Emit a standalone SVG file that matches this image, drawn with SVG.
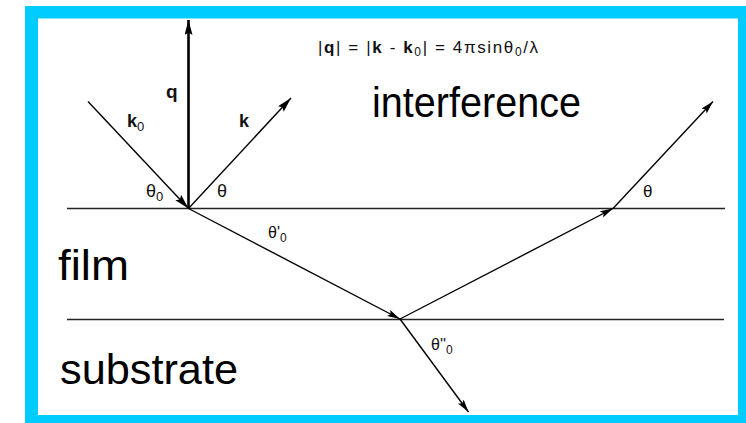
<svg xmlns="http://www.w3.org/2000/svg" width="746" height="423" viewBox="0 0 746 423">
<style>
.lbl{font-family:"Liberation Sans",Arial,sans-serif;fill:#111}
.big{font-family:"Liberation Sans",Arial,sans-serif;font-size:43px;fill:#000}
.b{font-weight:bold}
.ray{stroke:#000;stroke-width:1.4;fill:none}
.surf{stroke:#222;stroke-width:1.5}
</style>
<defs>
<marker id="ah" markerUnits="userSpaceOnUse" markerWidth="14" markerHeight="8" refX="13" refY="3.5" orient="auto">
<path d="M0,0 L13,3.5 L0,7 L2.5,3.5 z" fill="#000"/>
</marker>
<marker id="ahq" markerUnits="userSpaceOnUse" markerWidth="16" markerHeight="9" refX="15" refY="4" orient="auto">
<path d="M0,0 L15,4 L0,8 L2.5,4 z" fill="#000"/>
</marker>
</defs>
<rect x="25" y="6" width="721" height="417" fill="#00CCFF"/>
<rect x="38" y="18.5" width="700" height="396.5" fill="#fff"/>
<g id="surfaces">
<line class="surf" x1="67" y1="208.5" x2="725" y2="208.5"/>
<line class="surf" x1="67" y1="319.5" x2="724" y2="319.5"/>
</g>
<g id="connectors">
<line x1="188.5" y1="208.5" x2="188.5" y2="20" stroke="#000" stroke-width="2.6" marker-end="url(#ahq)"/>
<line class="ray" x1="88" y1="101.5" x2="188.5" y2="208.5" stroke-width="1.8" marker-end="url(#ahq)"/>
<line class="ray" x1="188.5" y1="208.5" x2="291" y2="98" stroke-width="1.8" marker-end="url(#ahq)"/>
<line class="ray" x1="188.5" y1="208.5" x2="400" y2="319" marker-end="url(#ah)"/>
<line class="ray" x1="400" y1="319" x2="613" y2="208.5" marker-end="url(#ah)"/>
<line class="ray" x1="613" y1="208.5" x2="713" y2="101.5" stroke-width="1.8" marker-end="url(#ah)"/>
<line class="ray" x1="400" y1="319" x2="468.5" y2="412" marker-end="url(#ah)"/>
</g>
<g id="formula">
<text class="lbl" x="318" y="53" font-size="17" textLength="220" lengthAdjust="spacing">|<tspan class="b">q</tspan>| = |<tspan class="b">k</tspan> - <tspan class="b">k</tspan><tspan font-size="12" dy="3">0</tspan><tspan dy="-3">| = 4πsinθ</tspan><tspan font-size="12" dy="3">0</tspan><tspan dy="-3">/λ</tspan></text>
</g>
<g id="labels">
<text class="lbl b" x="166" y="98" font-size="19">q</text>
<text class="lbl" x="127" y="127" font-size="18"><tspan class="b">k</tspan><tspan font-size="13" dy="4">0</tspan></text>
<text class="lbl b" x="239" y="127" font-size="18">k</text>
<text class="lbl" x="146" y="197" font-size="18">θ<tspan font-size="13" dy="4">0</tspan></text>
<text class="lbl" x="217" y="197" font-size="18">θ</text>
<text class="lbl" x="268" y="238" font-size="16">θ'<tspan font-size="12" dy="4">0</tspan></text>
<text class="lbl" x="431" y="350" font-size="16">θ''<tspan font-size="12" dy="4">0</tspan></text>
<text class="lbl" x="643" y="197" font-size="17">θ</text>
</g>
<g id="regions">
<text class="big" x="372" y="117" textLength="209" lengthAdjust="spacingAndGlyphs">interference</text>
<text class="big" x="58" y="279.5" textLength="71" lengthAdjust="spacingAndGlyphs">film</text>
<text class="big" x="60" y="383.5" textLength="178" lengthAdjust="spacingAndGlyphs">substrate</text>
</g>
</svg>
